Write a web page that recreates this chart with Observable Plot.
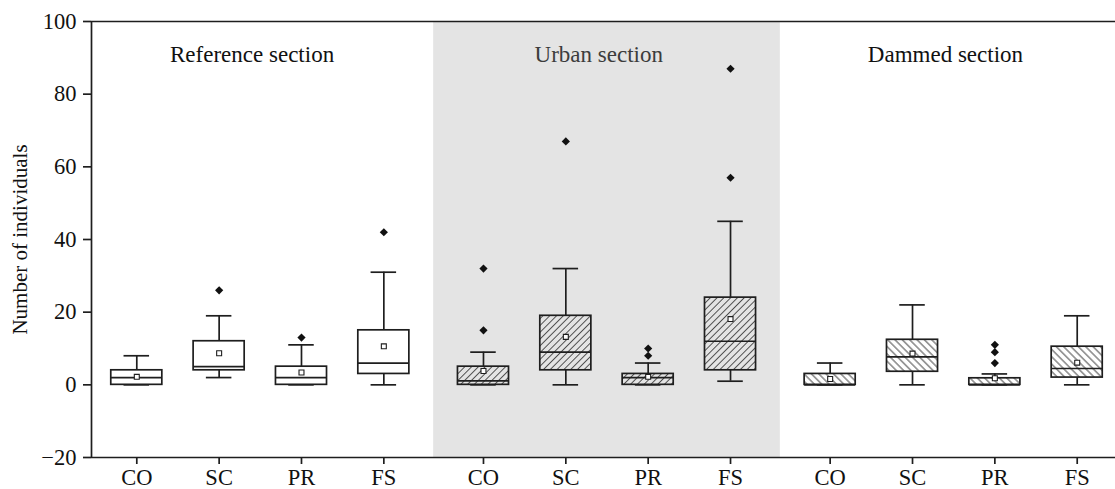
<!DOCTYPE html>
<html>
<head>
<meta charset="utf-8">
<script src="https://cdn.jsdelivr.net/npm/d3@7"></script>
<script src="https://cdn.jsdelivr.net/npm/@observablehq/plot@0.6"></script>
<style>
  html, body { margin: 0; padding: 0; background: white; }
  #chart { width: 1115px; height: 489px; }
</style>
</head>
<body>
<div id="chart"></div>
<script>
// ---- Data ----
const sections = ["Reference section", "Urban section", "Dammed section"];
const groups = ["CO", "SC", "PR", "FS"];
// 12 boxes: Reference CO,SC,PR,FS | Urban CO,SC,PR,FS | Dammed CO,SC,PR,FS
const whiskerLow  = [0, 2, 0, 0,   0, 0, 0, 1,    0, 0,   0,   0];
const q1          = [0, 4, 0, 3,   0, 4, 0, 4,    0, 3.6, 0,   2];
const median      = [2, 5, 2, 6,   1.1, 9, 2, 12, 0, 7.7, 0,   4.5];
const q3          = [4, 12, 5, 15, 5, 19, 3, 24,  3, 12.4, 1.8, 10.5];
const whiskerHigh = [8, 19, 11, 31, 9, 32, 6, 45, 6, 22,  3,   19];
const means       = [2.2, 8.7, 3.4, 10.6, 3.8, 13.2, 2.2, 18.1, 1.6, 8.6, 1.8, 6.1];
const outliers    = [[], [26], [13], [42], [15, 32], [67], [8, 10], [57, 87], [], [], [6, 9, 11], []];
const yTicks = [-20, 0, 20, 40, 60, 80, 100];

// ---- Layout helpers ----
const GAP = 0.21;              // extra spacing between sections (x units)
const BOX_W = 0.62;            // box width (x units)
const CAP_W = 0.31;            // whisker cap width (x units)
const SW = 1.7;                // line width
const posOf = (s, g) => 1 + s * (4 + GAP) + g;

const rows = [];
sections.forEach((sec, s) => groups.forEach((grp, g) => {
  const i = s * 4 + g;
  rows.push({section: s, group: grp, pos: posOf(s, g),
    lo: whiskerLow[i], q1: q1[i], med: median[i], q3: q3[i], hi: whiskerHigh[i], mean: means[i]});
}));
const outRows = [];
rows.forEach((r, i) => outliers[i].forEach(v => outRows.push({pos: r.pos, v})));

const positions = rows.map(r => r.pos);
const labelByPos = new Map(rows.map(r => [r.pos, r.group]));
const xMin = 0.45, xMax = 12.885;
const shade = [{x1: (posOf(0, 3) + posOf(1, 0)) / 2, x2: (posOf(1, 3) + posOf(2, 0)) / 2}];
const titleRows = sections.map((t, s) => ({t, s, x: posOf(s, 1.5) - 0.1}));

const ink = "#1e1e1e";
const fills = ["white", "url(#hatchUrban)", "url(#hatchDammed)"];

const boxMarks = [0, 1, 2].map(s => Plot.rect(rows.filter(r => r.section === s), {
  x1: d => d.pos - BOX_W / 2, x2: d => d.pos + BOX_W / 2,
  y1: "q1", y2: "q3", fill: fills[s], stroke: ink, strokeWidth: SW
}));

const plot = Plot.plot({
  width: 1115,
  height: 489,
  marginLeft: 91,
  marginRight: 0,
  marginTop: 21,
  marginBottom: 32,
  style: {fontFamily: "'Liberation Serif', 'Times New Roman', serif", fontSize: "22px", color: ink, background: "white"},
  x: {type: "linear", domain: [xMin, xMax]},
  y: {domain: [-20, 100]},
  marks: [
    Plot.rect(shade, {x1: "x1", x2: "x2", y1: -20, y2: 100, fill: "#e4e4e4"}),
    // whiskers
    Plot.ruleX(rows, {x: "pos", y1: "q3", y2: "hi", stroke: ink, strokeWidth: SW}),
    Plot.ruleX(rows, {x: "pos", y1: "lo", y2: "q1", stroke: ink, strokeWidth: SW}),
    Plot.ruleY(rows, {y: "hi", x1: d => d.pos - CAP_W / 2, x2: d => d.pos + CAP_W / 2, stroke: ink, strokeWidth: SW}),
    Plot.ruleY(rows, {y: "lo", x1: d => d.pos - CAP_W / 2, x2: d => d.pos + CAP_W / 2, stroke: ink, strokeWidth: SW}),
    ...boxMarks,
    Plot.ruleY(rows, {y: "med", x1: d => d.pos - BOX_W / 2, x2: d => d.pos + BOX_W / 2, stroke: ink, strokeWidth: SW}),
    Plot.dot(rows, {x: "pos", y: "mean", symbol: "square", r: 2.8, fill: "white", stroke: ink, strokeWidth: 1.1}),
    Plot.dot(outRows, {x: "pos", y: "v", symbol: "diamond2", r: 3.7, fill: "#111", stroke: "none"}),
    // frame lines
    Plot.ruleY([100], {stroke: ink, strokeWidth: SW}),
    Plot.ruleY([-20], {stroke: ink, strokeWidth: SW}),
    Plot.ruleX([xMin], {stroke: ink, strokeWidth: SW}),
    // axes
    Plot.axisY(yTicks, {tickSize: 8, tickPadding: 7, strokeWidth: SW, label: null, tickFormat: d => d < 0 ? "\u2212" + Math.abs(d) : String(d), fontSize: 22.5, fill: "#111"}),
    Plot.axisX(positions, {tickSize: 7, tickPadding: 5, strokeWidth: SW, label: null, tickFormat: d => labelByPos.get(d), fontSize: 22.5, fill: "#111"}),
    // section titles
    Plot.text(titleRows, {x: "x", y: 90.8, text: "t", fontSize: 23, fill: d => d.s === 1 ? "#3c3c3c" : "#111"}),
    // y label
    Plot.text(["Number of individuals"], {frameAnchor: "left", textAnchor: "middle", rotate: -90, dx: -71, fontSize: 21, fill: "#111"})
  ]
});

// hatch pattern definitions
const ns = "http://www.w3.org/2000/svg";
const defs = document.createElementNS(ns, "defs");
function makePattern(id, size, angle, color) {
  const p = document.createElementNS(ns, "pattern");
  p.setAttribute("id", id);
  p.setAttribute("patternUnits", "userSpaceOnUse");
  p.setAttribute("width", size);
  p.setAttribute("height", size);
  p.setAttribute("patternTransform", `rotate(${angle})`);
  const l = document.createElementNS(ns, "line");
  l.setAttribute("x1", size / 2); l.setAttribute("x2", size / 2);
  l.setAttribute("y1", 0); l.setAttribute("y2", size);
  l.setAttribute("stroke", color);
  l.setAttribute("stroke-width", 0.9);
  p.appendChild(l);
  defs.appendChild(p);
}
makePattern("hatchUrban", 4.8, 45, "#444");
makePattern("hatchDammed", 5.2, -45, "#333");
plot.insertBefore(defs, plot.firstChild);

document.getElementById("chart").appendChild(plot);
</script>
</body>
</html>
